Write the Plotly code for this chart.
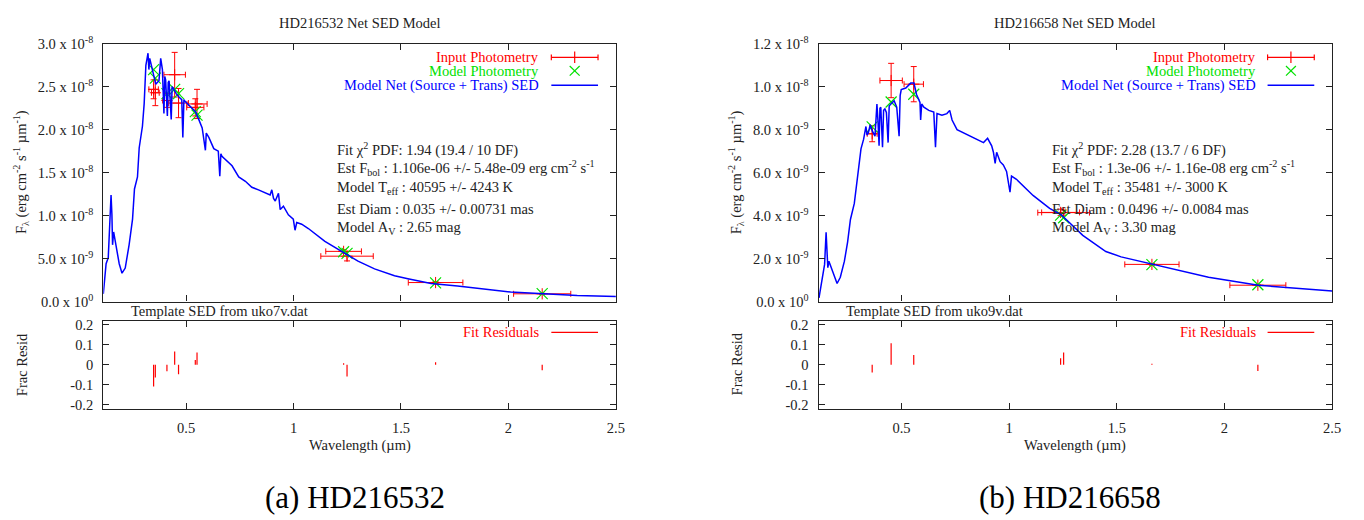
import plotly.graph_objects as go

# ---------------- data: HD216532 (panel a) ----------------
sed_lam_a = [0.115, 0.128, 0.138, 0.151, 0.155, 0.158, 0.163, 0.174, 0.189, 0.202, 0.217, 0.235,
             0.251, 0.260, 0.274, 0.282, 0.297, 0.305, 0.313, 0.323, 0.327, 0.331, 0.336, 0.343,
             0.351, 0.359, 0.366, 0.374, 0.382, 0.386, 0.390, 0.397, 0.401, 0.405, 0.409, 0.413,
             0.417, 0.421, 0.431, 0.435, 0.439, 0.447, 0.454, 0.467, 0.480, 0.485, 0.490, 0.495,
             0.521, 0.544, 0.559, 0.575, 0.590, 0.594, 0.606, 0.629, 0.650, 0.657, 0.662, 0.667,
             0.714, 0.745, 0.776, 0.806, 0.837, 0.876, 0.891, 0.899, 0.907, 0.915, 0.930, 0.938,
             0.953, 0.976, 0.999, 1.007, 1.015, 1.038, 1.069, 1.146, 1.223, 1.300, 1.377, 1.470,
             1.532, 1.640, 1.763, 1.856, 2.010, 2.164, 2.320, 2.500]
sed_flux_a = [0.09, 0.44, 0.51, 1.24, 1.01, 0.66, 0.81, 0.66, 0.44, 0.33, 0.39, 0.66,
              0.96, 1.31, 1.45, 1.79, 2.04, 2.30, 2.75, 2.89, 2.70, 2.83, 2.78, 2.70,
              2.62, 2.53, 2.55, 2.57, 2.83, 2.78, 2.70, 2.19, 2.62, 2.58, 2.40, 2.16,
              2.55, 2.57, 2.12, 2.50, 2.49, 2.45, 2.42, 2.38, 2.35, 1.91, 2.35, 2.33,
              2.27, 2.21, 2.12, 2.02, 1.76, 1.96, 1.91, 1.78, 1.75, 1.46, 1.72, 1.69,
              1.58, 1.45, 1.40, 1.33, 1.30, 1.26, 1.24, 1.30, 1.20, 1.17, 1.26, 1.07,
              1.11, 1.01, 0.96, 0.83, 0.92, 0.90, 0.85, 0.70, 0.58, 0.47, 0.38, 0.30,
              0.265, 0.21, 0.18, 0.154, 0.11, 0.09, 0.071, 0.06]  # x 1e-8

phot_lam_a = [0.349, 0.357, 0.411, 0.447, 0.465, 0.543, 0.551, 1.233, 1.249, 1.661, 2.157]
phot_flux_a = [2.47, 2.43, 2.34, 2.64, 2.31, 2.26, 2.30, 0.584, 0.528, 0.221, 0.090]  # x 1e-8
phot_xerr_a = [0.022, 0.018, 0.020, 0.050, 0.046, 0.040, 0.047, 0.083, 0.122, 0.127, 0.133]
phot_yerr_a = [0.11, 0.15, 0.08, 0.26, 0.17, 0.10, 0.17, 0.02, 0.055, 0.01, 0.006]  # x 1e-8
model_flux_a = [2.70, 2.60, 2.42, 2.47, 2.42, 2.21, 2.17, 0.580, 0.561, 0.218, 0.0925]  # x 1e-8
resid_a = [-0.109, -0.064, -0.032, 0.067, -0.048, 0.024, 0.061, 0.008, -0.059, 0.013, -0.027]

# ---------------- data: HD216658 (panel b) ----------------
sed_lam_b = [0.117, 0.135, 0.143, 0.150, 0.158, 0.163, 0.174, 0.189, 0.201, 0.216, 0.235, 0.250,
             0.263, 0.281, 0.296, 0.312, 0.324, 0.335, 0.340, 0.346, 0.355, 0.365, 0.377, 0.386,
             0.391, 0.396, 0.400, 0.404, 0.412, 0.417, 0.423, 0.430, 0.438, 0.443, 0.450, 0.466,
             0.478, 0.489, 0.494, 0.499, 0.520, 0.543, 0.558, 0.570, 0.586, 0.589, 0.594, 0.604,
             0.627, 0.650, 0.658, 0.665, 0.688, 0.711, 0.724, 0.735, 0.758, 0.788, 0.835, 0.881,
             0.900, 0.919, 0.927, 0.935, 0.942, 0.958, 0.973, 0.988, 1.004, 1.011, 1.034, 1.057,
             1.111, 1.188, 1.242, 1.342, 1.449, 1.520, 1.665, 1.926, 2.157, 2.500]
sed_flux_b = [0.17, 1.13, 1.73, 3.22, 1.58, 1.88, 1.58, 1.13, 0.84, 1.13, 1.88, 2.78,
              3.82, 4.57, 5.76, 7.11, 7.55, 8.15, 7.75, 7.85, 8.23, 7.93, 7.70, 9.19,
              8.40, 7.25, 9.00, 9.05, 7.18, 8.90, 8.97, 8.80, 7.40, 9.10, 9.19, 9.35,
              9.05, 7.70, 9.60, 9.87, 9.94, 10.17, 10.17, 9.64, 9.27, 8.45, 9.20, 9.05,
              8.90, 8.82, 7.18, 8.75, 8.67, 8.75, 8.90, 8.45, 8.00, 7.85, 7.63, 7.40,
              7.60, 7.25, 6.95, 6.43, 6.95, 6.51, 6.36, 6.06, 5.09, 5.84, 5.69, 5.46,
              4.94, 4.34, 4.04, 3.08, 2.33, 2.08, 1.73, 1.13, 0.76, 0.49]  # x 1e-9

phot_lam_b = [0.364, 0.452, 0.557, 1.239, 1.253, 1.663, 2.155]
phot_flux_b = [7.81, 10.29, 10.12, 4.15, 4.14, 1.73, 0.76]  # x 1e-9
phot_xerr_b = [0.023, 0.052, 0.045, 0.088, 0.120, 0.126, 0.130]
phot_yerr_b = [0.37, 0.80, 0.82, 0.15, 0.12, 0.04, 0.02]  # x 1e-9
model_flux_b = [8.13, 9.29, 9.65, 4.02, 3.90, 1.72, 0.78]  # x 1e-9
resid_b = [-0.039, 0.108, 0.049, 0.033, 0.062, 0.005, -0.031]

ytick_vals_a = [0, 5e-9, 1e-8, 1.5e-8, 2e-8, 2.5e-8, 3e-8]
ytick_text_a = ["0.0 x 10<sup>0</sup>", "5.0 x 10<sup>-9</sup>", "1.0 x 10<sup>-8</sup>",
                "1.5 x 10<sup>-8</sup>", "2.0 x 10<sup>-8</sup>", "2.5 x 10<sup>-8</sup>",
                "3.0 x 10<sup>-8</sup>"]
ytick_vals_b = [0, 2e-9, 4e-9, 6e-9, 8e-9, 1e-8, 1.2e-8]
ytick_text_b = ["0.0 x 10<sup>0</sup>", "2.0 x 10<sup>-9</sup>", "4.0 x 10<sup>-9</sup>",
                "6.0 x 10<sup>-9</sup>", "8.0 x 10<sup>-9</sup>", "1.0 x 10<sup>-8</sup>",
                "1.2 x 10<sup>-8</sup>"]
xtick_vals = [0.5, 1, 1.5, 2, 2.5]
xtick_text = ["0.5", "1", "1.5", "2", "2.5"]
rtick_vals = [-0.2, -0.1, 0, 0.1, 0.2]
rtick_text = ["-0.2", "-0.1", "0", "0.1", "0.2"]

info_a = ["Fit χ<sup>2</sup> PDF: 1.94 (19.4 / 10 DF)",
          "Est F<sub>bol</sub> : 1.106e-06 +/- 5.48e-09 erg cm<sup>-2</sup> s<sup>-1</sup>",
          "Model T<sub>eff</sub> : 40595 +/- 4243 K",
          "Est Diam : 0.035 +/- 0.00731 mas",
          "Model A<sub>V</sub> : 2.65 mag"]
info_b = ["Fit χ<sup>2</sup> PDF: 2.28 (13.7 / 6 DF)",
          "Est F<sub>bol</sub> : 1.3e-06 +/- 1.16e-08 erg cm<sup>-2</sup> s<sup>-1</sup>",
          "Model T<sub>eff</sub> : 35481 +/- 3000 K",
          "Est Diam : 0.0496 +/- 0.0084 mas",
          "Model A<sub>V</sub> : 3.30 mag"]

# ---------------- layout helpers ----------------
W, H = 1364, 520
FONT = "Liberation Serif"
TXT = "#222222"
RED = "#ff0000"
GREEN = "#00e000"
BLUE = "#0000ff"


def PX(x):
    return x / W


def PY(y):
    return 1 - y / H


fig = go.Figure()


def add_panel(sx, sy, rx, ry, lam, flux, fscale, plam, pflux, pxe, pye, mflux, res):
    fig.add_trace(go.Scatter(
        x=plam, y=[v * fscale for v in pflux], mode="markers",
        xaxis=sx, yaxis=sy,
        marker=dict(symbol="cross-thin", size=8, line=dict(color=RED, width=1), color=RED),
        error_x=dict(type="data", array=pxe, color=RED, thickness=1, width=3),
        error_y=dict(type="data", array=[v * fscale for v in pye], color=RED, thickness=1, width=3),
        showlegend=False, hoverinfo="skip"))
    fig.add_trace(go.Scatter(
        x=plam, y=[v * fscale for v in mflux], mode="markers",
        xaxis=sx, yaxis=sy,
        marker=dict(symbol="x-thin", size=11, line=dict(color=GREEN, width=1.2), color=GREEN),
        showlegend=False, hoverinfo="skip"))
    fig.add_trace(go.Scatter(
        x=lam, y=[v * fscale for v in flux], mode="lines",
        xaxis=sx, yaxis=sy, line=dict(color=BLUE, width=1.5),
        showlegend=False, hoverinfo="skip"))
    rxs, rys = [], []
    for l, r in zip(plam, res):
        rxs += [l, l, None]
        rys += [0, r, None]
    fig.add_trace(go.Scatter(
        x=rxs, y=rys, mode="lines", xaxis=rx, yaxis=ry,
        line=dict(color=RED, width=1.2), showlegend=False, hoverinfo="skip"))


add_panel("x", "y", "x2", "y2", sed_lam_a, sed_flux_a, 1e-8,
          phot_lam_a, phot_flux_a, phot_xerr_a, phot_yerr_a, model_flux_a, resid_a)
add_panel("x3", "y3", "x4", "y4", sed_lam_b, sed_flux_b, 1e-9,
          phot_lam_b, phot_flux_b, phot_xerr_b, phot_yerr_b, model_flux_b, resid_b)

tickfont = dict(family=FONT, size=14.5, color=TXT)


def axis(domain, rng, anchor, tv, tt, labels):
    return dict(domain=domain, range=rng, anchor=anchor, showline=True, linecolor="#222",
                linewidth=1.3, mirror="ticks", ticks="inside", ticklen=6, tickwidth=1,
                tickcolor="#222", showgrid=False, zeroline=False, tickvals=tv, ticktext=tt,
                showticklabels=labels, tickfont=tickfont, ticklabelstandoff=6, fixedrange=True)


xa = [PX(104), PX(620)]
xb = [PX(824), PX(1341)]
ymain = [PY(302), PY(35)]
yres = [PY(413), PY(322)]
XR = [0.115, 2.5]

fig.update_layout(
    xaxis=axis(xa, XR, "y", xtick_vals[:-1], xtick_text[:-1], False),
    yaxis=axis(ymain, [0, 3e-8], "x", ytick_vals_a, ytick_text_a, True),
    xaxis2=axis(xa, XR, "y2", xtick_vals, xtick_text, True),
    yaxis2=axis(yres, [-0.22, 0.22], "x2", rtick_vals, rtick_text, True),
    xaxis3=axis(xb, XR, "y3", xtick_vals[:-1], xtick_text[:-1], False),
    yaxis3=axis(ymain, [0, 1.2e-8], "x3", ytick_vals_b, ytick_text_b, True),
    xaxis4=axis(xb, XR, "y4", xtick_vals, xtick_text, True),
    yaxis4=axis(yres, [-0.22, 0.22], "x4", rtick_vals, rtick_text, True),
)

ann = []
shapes = []


def text(x, y, s, size=14.5, color=TXT, xanchor="center", angle=0):
    ann.append(dict(x=PX(x), y=PY(y), xref="paper", yref="paper", text=s, showarrow=False,
                    xanchor=xanchor, yanchor="middle", textangle=angle,
                    font=dict(family=FONT, size=size, color=color)))


def seg(x0, y0, x1, y1, color, width=1.2):
    shapes.append(dict(type="line", xref="paper", yref="paper", x0=PX(x0), y0=PY(y0),
                       x1=PX(x1), y1=PY(y1), line=dict(color=color, width=width)))


for off, name, info, tmpl, cap in [(0, "HD216532", info_a, "uko7v.dat", "(a) HD216532"),
                                   (720, "HD216658", info_b, "uko9v.dat", "(b) HD216658")]:
    text(362 + off, 13, name + " Net SED Model")
    text(21 + off, 168, "F<sub>λ</sub> (erg cm<sup>-2</sup> s<sup>-1</sup> µm<sup>-1</sup>)", angle=-90)
    text(22 + off, 367, "Frac Resid", angle=-90)
    text(362 + off, 451, "Wavelength (µm)")
    text(130 + off, 312, "Template SED from " + tmpl, xanchor="left")
    text(357 + off, 505, cap, size=31, color="#000")
    for yy, s in zip([145, 164, 184, 206, 226], info):
        text(337 + off, yy, s, xanchor="left")
    # legends
    lo = off + (1 if off else 0)
    text(545 + lo, 49, "Input Photometry", color=RED, xanchor="right")
    text(545 + lo, 63, "Model Photometry", color=GREEN, xanchor="right")
    text(545 + lo, 78, "Model Net (Source + Trans) SED", color=BLUE, xanchor="right")
    text(545 + lo, 334, "Fit Residuals", color=RED, xanchor="right")
    k0, k1 = 555 + lo, 602 + lo
    km = (k0 + k1) / 2
    seg(k0, 49, k1, 49, RED)
    seg(k0, 46, k0, 52, RED)
    seg(k1, 46, k1, 52, RED)
    seg(km, 43, km, 55, RED)
    seg(km - 5, 58, km + 5, 68, GREEN)
    seg(km - 5, 68, km + 5, 58, GREEN)
    seg(k0, 78, k1, 78, BLUE, 1.4)
    seg(k0, 334, k1, 334, RED)

fig.update_layout(annotations=ann, shapes=shapes, width=W, height=H, autosize=False,
                  margin=dict(l=0, r=0, t=0, b=0), plot_bgcolor="white", paper_bgcolor="white",
                  showlegend=False)

fig.write_html("out.html", config={"displayModeBar": False})
